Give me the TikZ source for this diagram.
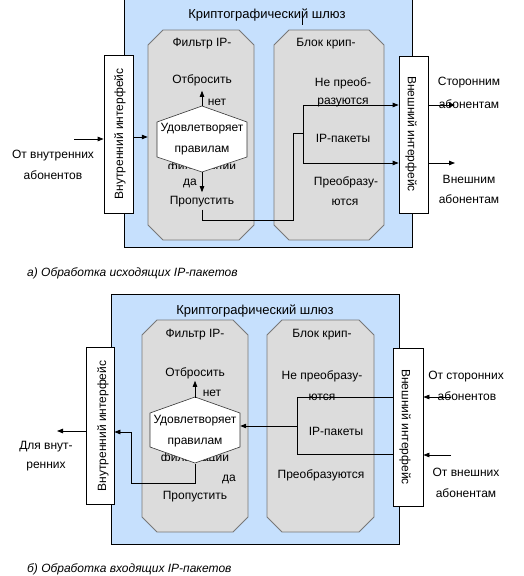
\documentclass[tikz,border=0pt]{standalone}
\usepackage{fontspec}
\setmainfont{Liberation Sans}
\usetikzlibrary{arrows.meta}
\definecolor{gwblue}{RGB}{198,224,253}
\definecolor{octfill}{RGB}{220,220,220}
\definecolor{octline}{RGB}{120,120,120}
\newcommand\octpath[4]{\path[octshape] (#1+15,#2) -- (#3-15,#2) -- (#3,#2+15) -- (#3,#4-15) -- (#3-15,#4) -- (#1+15,#4) -- (#1,#4-15) -- (#1,#2+15) -- cycle;}
\begin{document}
\begin{tikzpicture}[x=1pt,y=-1pt,
  font=\fontsize{12}{14}\selectfont,
  gw/.style={draw=black, fill=gwblue, line width=0.8pt, minimum width=288pt, minimum height=250pt, inner sep=0pt},
  octshape/.style={draw=octline, fill=octfill, line width=0.8pt},
  octnode/.style={inner sep=0pt},
  ifbox/.style={draw=black, fill=white, line width=0.8pt, inner sep=0pt},
  lbl/.style={inner sep=0pt},
  ttl/.style={inner sep=0pt, font=\fontsize{13}{15}\selectfont},
  hexshape/.style={draw=black!80, fill=white, line width=0.6pt},
  hexnode/.style={minimum width=90pt, minimum height=66pt, inner sep=0pt, align=center, font=\fontsize{12}{21}\selectfont},
  conn/.style={draw=black, line width=0.8pt},
  arr/.style={conn, -{Triangle[length=6pt,width=4.5pt]}},
  captext/.style={inner sep=0pt, anchor=west, font=\fontsize{12}{14}\selectfont\itshape}
]
\useasboundingbox (0,0) rectangle (524,576);

% ================= TOP: outgoing =================
\node[gw] (gw1) at (268,122) {};
\node[ttl] (title1) at (267,15) {Криптографический шлюз};
\coordinate (tk1a) at (302,13);
\coordinate (tk1b) at (302,25);
\draw[conn] (tk1a) -- (tk1b);

\octpath{148}{30}{254}{240}
\octpath{274}{30}{384}{240}
\node[octnode, minimum width=106pt, minimum height=210pt] (oct1L) at (201,135) {};
\node[octnode, minimum width=110pt, minimum height=210pt] (oct1R) at (329,135) {};
\node[lbl] (f1) at (202,44) {Фильтр IP-};
\node[lbl] (b1t) at (326,44) {Блок крип-};

\node[ifbox, minimum width=29pt, minimum height=158pt] (inbox1) at (118.5,134) {};
\node[lbl, rotate=90] (inbox1t) at (120,134) {Внутренний интерфейс};
\node[ifbox, minimum width=29pt, minimum height=157pt] (exbox1) at (413.5,134.5) {};
\node[lbl, rotate=-90] (exbox1t) at (411,134) {Внешний интерфейс};

\node[lbl] (src1a) at (53,156) {От внутренних};
\node[lbl] (src1b) at (53,175) {абонентов};
\coordinate (in1s) at (74,139);
\draw[arr] (in1s) -- (inbox1.west |- in1s);
\draw[arr] (inbox1.east |- 0,137) -- (oct1L.west |- 0,137);

\node[lbl] (otb1) at (202,80) {Отбросить};
\node[lbl] (net1) at (217,102) {нет};
\begin{scope}
  \clip (150,150) rectangle (255,168);
  \node[lbl] (frag1) at (202,167) {фильтрации};
\end{scope}
\path[hexshape] (202,106) -- (247,122) -- (247,157) -- (202,172) -- (157,157) -- (157,122) -- cycle;
\node[hexnode] (hex1) at (202,139) {Удовлетворяет\\правилам};
\node[lbl] (da1) at (190,183) {да};
\node[lbl] (prop1) at (202,202) {Пропустить};
\draw[arr] (hex1.north) -- ++(0,-15);
\draw[arr] (hex1.south) -- ++(0,20);

\node[lbl] (r1a) at (343,83) {Не преоб-};
\node[lbl] (r1b) at (343,103) {разуются};
\node[lbl] (r1c) at (343,138) {IP-пакеты};
\node[lbl] (r1d) at (346,182) {Преобразу-};
\node[lbl] (r1e) at (345,202) {ются};

\coordinate (j1) at (293,220);
\coordinate (br1) at (303,133);
\draw[conn] ([yshift=-2pt]prop1.south) |- (j1) |- (br1);
\draw[arr] (br1) |- (exbox1.west |- 0,105);
\draw[arr] (br1) |- (exbox1.west |- 0,163);

\coordinate (o1a) at (455,105);
\coordinate (o1b) at (455,163);
\draw[arr] (exbox1.east |- o1a) -- (o1a);
\draw[arr] (exbox1.east |- o1b) -- (o1b);
\node[lbl] (d1a) at (469,83) {Сторонним};
\node[lbl] (d1b) at (469,104) {абонентам};
\node[lbl] (d1c) at (469,179) {Внешним};
\node[lbl] (d1d) at (469,199) {абонентам};

\node[captext] (capA) at (27,273) {а) Обработка исходящих IP-пакетов};

% ================= BOTTOM: incoming =================
\node[gw] (gw2) at (255,419) {};
\node[ttl] (title2) at (255,311) {Криптографический шлюз};

\octpath{142}{320}{248}{532}
\octpath{267}{320}{374}{532}
\node[octnode, minimum width=106pt, minimum height=212pt] (oct2L) at (195,426) {};
\node[octnode, minimum width=107pt, minimum height=212pt] (oct2R) at (320.5,426) {};
\node[lbl] (f2) at (195,335) {Фильтр IP-};
\node[lbl] (b2t) at (322,335) {Блок крип-};

\node[ifbox, minimum width=28pt, minimum height=157pt] (inbox2) at (100,425.5) {};
\node[lbl, rotate=90] (inbox2t) at (103,426) {Внутренний интерфейс};
\node[ifbox, minimum width=30pt, minimum height=158pt] (exbox2) at (408,427) {};
\node[lbl, rotate=-90] (exbox2t) at (405,427) {Внешний интерфейс};

\node[lbl] (otb2) at (195,373) {Отбросить};
\node[lbl] (net2) at (212,393) {нет};
\begin{scope}
  \clip (140,440) rectangle (250,460);
  \node[lbl] (frag2) at (195,458) {фильтрации};
\end{scope}
\path[hexshape] (195,397) -- (240,413) -- (240,447) -- (195,463) -- (150,447) -- (150,413) -- cycle;
\node[hexnode] (hex2) at (195,431) {Удовлетворяет\\правилам};
\node[lbl] (da2) at (229,479) {да};
\node[lbl] (prop2) at (195,497) {Пропустить};
\draw[arr] (hex2.north) -- ++(0,-17);

\coordinate (j2) at (131,483);
\draw[arr] (hex2.south) |- (j2) |- (inbox2.east |- 0,432);

\node[lbl] (r2a) at (322,376) {Не преобразу-};
\node[lbl] (r2b) at (322,397) {ются};
\node[lbl] (r2c) at (336,431) {IP-пакеты};
\node[lbl] (r2d) at (321,475) {Преобразуются};

\coordinate (k2a) at (297,397);
\coordinate (k2b) at (297,454);
\coordinate (k2m) at (297,426);
\draw[conn] (exbox2.west |- k2a) -- (k2a) -- (k2b) -- (exbox2.west |- k2b);
\draw[arr] (k2m) -- (hex2.east |- k2m);

\coordinate (o2) at (57,431);
\draw[arr] (inbox2.west |- o2) -- (o2);
\node[lbl] (d2a) at (46,447) {Для внут-};
\node[lbl] (d2b) at (46,467) {ренних};

\coordinate (s2a) at (451,397);
\coordinate (s2b) at (451,455);
\draw[arr] (s2a) -- (exbox2.east |- s2a);
\draw[arr] (s2b) -- (exbox2.east |- s2b);
\node[lbl] (e2a) at (466,377) {От сторонних};
\node[lbl] (e2b) at (467,396) {абонентов};
\node[lbl] (e2c) at (466,472) {От внешних};
\node[lbl] (e2d) at (466,493) {абонентам};

\node[captext] (capB) at (27,569) {б) Обработка входящих IP-пакетов};
\end{tikzpicture}
\end{document}
